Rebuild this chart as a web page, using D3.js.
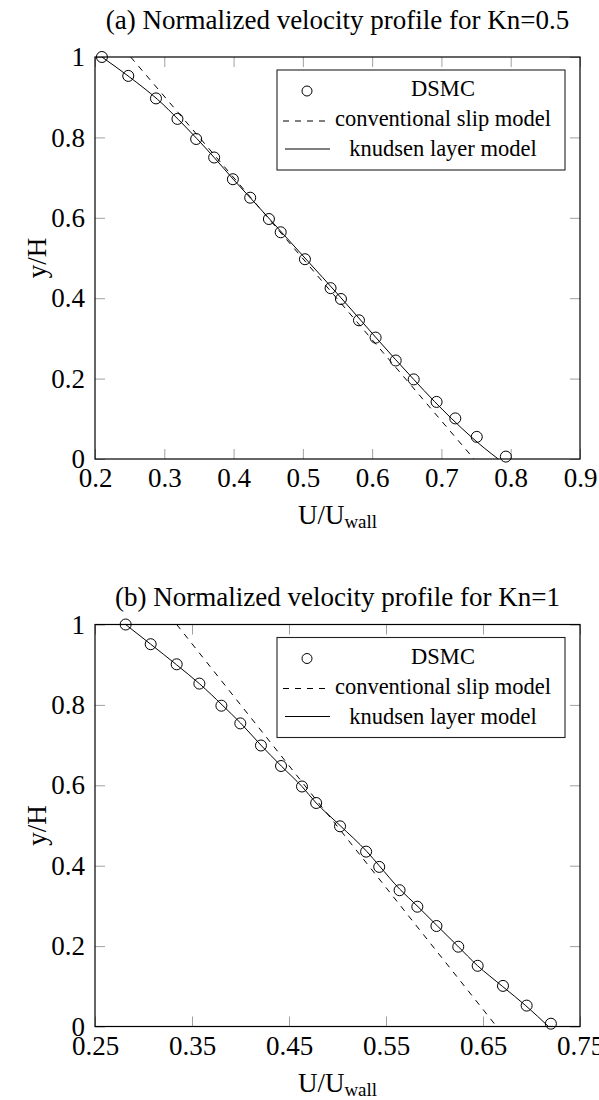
<!DOCTYPE html>
<html>
<head>
<meta charset="utf-8">
<script src="https://cdn.jsdelivr.net/npm/d3@7"></script>
<style>
  body { margin: 0; background: #fff; }
  svg text { font-family: "Liberation Serif", "Times New Roman", serif; fill: #000; }
</style>
</head>
<body>
<svg id="chart" width="599" height="1100" font-family="Liberation Serif, serif"></svg>
<script>
// Kn = 0.5
const dsmcU05 = [0.21, 0.248, 0.288, 0.319, 0.346, 0.372, 0.399, 0.424, 0.451, 0.468, 0.503,
                 0.540, 0.555, 0.581, 0.605, 0.634, 0.660, 0.693, 0.720, 0.751, 0.793];
const dsmcY05 = [1.0, 0.953, 0.897, 0.846, 0.796, 0.75, 0.696, 0.65, 0.597, 0.564, 0.497,
                 0.425, 0.398, 0.345, 0.302, 0.245, 0.198, 0.142, 0.101, 0.055, 0.006];
const slipU05 = [0.2515, 0.747];
const slipY05 = [1, 0];
const knU05 = [0.21, 0.25, 0.29, 0.32, 0.347, 0.372, 0.40, 0.425, 0.452, 0.503, 0.554,
               0.605, 0.634, 0.66, 0.69, 0.715, 0.743, 0.762, 0.782];
const knY05 = [1, 0.95, 0.895, 0.845, 0.797, 0.75, 0.695, 0.648, 0.597, 0.5, 0.403,
               0.303, 0.247, 0.198, 0.143, 0.1, 0.055, 0.027, 0];
const xTicks05 = [0.2, 0.3, 0.4, 0.5, 0.6, 0.7, 0.8, 0.9];

// Kn = 1
const dsmcU1 = [0.2816, 0.3074, 0.3342, 0.3576, 0.3803, 0.3998, 0.4211, 0.4418, 0.4634, 0.478, 0.5026,
                0.5295, 0.543, 0.564, 0.5823, 0.602, 0.6245, 0.6445, 0.6706, 0.695, 0.720];
const dsmcY1 = [1.0, 0.951, 0.901, 0.853, 0.798, 0.754, 0.699, 0.648, 0.597, 0.556, 0.498,
                0.435, 0.397, 0.339, 0.298, 0.25, 0.1985, 0.151, 0.101, 0.052, 0.007];
const slipU1 = [0.3342, 0.664];
const slipY1 = [1, 0];
const knU1 = [0.2816, 0.3074, 0.334, 0.358, 0.381, 0.4, 0.421, 0.442, 0.4634, 0.478, 0.5026,
              0.53, 0.543, 0.564, 0.583, 0.603, 0.624, 0.6445, 0.67, 0.694, 0.7175];
const knY1 = [1, 0.951, 0.9, 0.852, 0.8, 0.755, 0.7, 0.648, 0.597, 0.556, 0.5,
              0.436, 0.4, 0.342, 0.298, 0.25, 0.2, 0.151, 0.1, 0.052, 0];
const xTicks1 = [0.25, 0.35, 0.45, 0.55, 0.65, 0.75];

const yTicks = [0, 0.2, 0.4, 0.6, 0.8, 1];
const legendLabels = ['DSMC', 'conventional slip model', 'knudsen layer model'];

const svg = d3.select('#chart');
const serif = '"Liberation Serif", "Times New Roman", serif';

const zip = (us, ys) => us.map((u, i) => ({u: u, y: ys[i]}));

const render = cfg => {
    const left = 95, right = 580;
    const top = cfg.top, bottom = cfg.top + 402;
    const innerWidth = right - left;
    const innerHeight = bottom - top;

    const xScale = d3.scaleLinear().domain(cfg.xDomain).range([0, innerWidth]);
    const yScale = d3.scaleLinear().domain([0, 1]).range([innerHeight, 0]);

    const g = svg.append('g').attr('transform', `translate(${left}, ${top})`);

    // titolo
    g.append('text')
        .attr('x', innerWidth / 2)
        .attr('y', cfg.titleY)
        .attr('text-anchor', 'middle')
        .style('font-size', '27px')
        .style('font-family', serif)
        .text(cfg.title);

    // tick interni grigi, su tutti e quattro i lati
    const tickLen = 10;
    const grey = s => s.selectAll('line').attr('stroke', '#a0a0a0');
    g.append('g').attr('transform', `translate(0, ${innerHeight})`)
        .call(d3.axisBottom(xScale).tickValues(cfg.xTicks).tickSize(-tickLen).tickFormat(''))
        .call(s => s.select('.domain').remove()).call(grey);
    g.append('g')
        .call(d3.axisTop(xScale).tickValues(cfg.xTicks).tickSize(-tickLen).tickFormat(''))
        .call(s => s.select('.domain').remove()).call(grey);
    g.append('g')
        .call(d3.axisLeft(yScale).tickValues(yTicks).tickSize(-tickLen).tickFormat(''))
        .call(s => s.select('.domain').remove()).call(grey);
    g.append('g').attr('transform', `translate(${innerWidth}, 0)`)
        .call(d3.axisRight(yScale).tickValues(yTicks).tickSize(-tickLen).tickFormat(''))
        .call(s => s.select('.domain').remove()).call(grey);

    // etichette
    const xLab = g.append('g').attr('transform', `translate(0, ${innerHeight})`)
        .call(d3.axisBottom(xScale).tickValues(cfg.xTicks).tickSize(0).tickPadding(0)
            .tickFormat(d3.format('')));
    xLab.attr('font-family', null);
    xLab.select('.domain').remove();
    xLab.selectAll('text').attr('dy', null).attr('y', 28)
        .style('font-size', '27px').style('font-family', serif);

    const yLab = g.append('g')
        .call(d3.axisLeft(yScale).tickValues(yTicks).tickSize(0).tickPadding(10)
            .tickFormat(d3.format('')));
    yLab.attr('font-family', null);
    yLab.select('.domain').remove();
    yLab.selectAll('text').attr('dy', '0.32em')
        .style('font-size', '27px').style('font-family', serif);

    const xt = g.append('text')
        .attr('x', innerWidth / 2)
        .attr('y', innerHeight + 65)
        .attr('text-anchor', 'middle')
        .style('font-size', '27px')
        .style('font-family', serif);
    xt.append('tspan').text('U/U');
    xt.append('tspan').attr('dy', 4).style('font-size', '19px').text('wall');

    g.append('text')
        .attr('transform', `translate(${46 - left}, ${innerHeight / 2}) rotate(-90)`)
        .attr('text-anchor', 'middle')
        .style('font-size', '27px')
        .style('font-family', serif)
        .text('y/H');

    // linee
    const line = d3.line().x(d => xScale(d.u)).y(d => yScale(d.y));

    g.append('path')
        .attr('d', line(cfg.slip))
        .attr('fill', 'none').attr('stroke', '#000').attr('stroke-width', 1)
        .attr('stroke-dasharray', '6,6');
    g.append('path')
        .attr('d', line.curve(d3.curveMonotoneY)(cfg.kn))
        .attr('fill', 'none').attr('stroke', '#000').attr('stroke-width', 1);

    g.selectAll('circle.pt')
        .data(cfg.dsmc)
        .enter()
        .append('circle')
        .attr('class', 'pt')
        .attr('cx', d => xScale(d.u))
        .attr('cy', d => yScale(d.y))
        .attr('r', 5.5)
        .attr('fill', 'none').attr('stroke', '#000').attr('stroke-width', 1);

    // cornice
    g.append('rect')
        .attr('width', innerWidth).attr('height', innerHeight)
        .attr('fill', 'none').attr('stroke', '#000').attr('stroke-width', 1.2);

    // legenda
    const lg = g.append('g').attr('transform', `translate(${277 - left}, 13)`);
    lg.append('rect')
        .attr('width', 288).attr('height', 100)
        .attr('fill', '#fff').attr('stroke', '#222').attr('stroke-width', 1.1);
    lg.append('circle').attr('cx', 30).attr('cy', 21).attr('r', 5)
        .attr('fill', 'none').attr('stroke', '#000');
    lg.append('line').attr('x1', 6).attr('x2', 52).attr('y1', 51).attr('y2', 51)
        .attr('stroke', '#000').attr('stroke-dasharray', '6,6');
    lg.append('line').attr('x1', 8).attr('x2', 53).attr('y1', 79).attr('y2', 79)
        .attr('stroke', '#000');
    lg.selectAll('text.lab')
        .data(legendLabels)
        .enter()
        .append('text')
        .attr('class', 'lab')
        .attr('x', 166)
        .attr('y', (d, i) => [26, 56, 86][i])
        .attr('text-anchor', 'middle')
        .style('font-size', '22.5px')
        .style('font-family', serif)
        .text(d => d);
};

render({
    top: 57,
    titleY: -28,
    title: '(a) Normalized velocity profile for Kn=0.5',
    xDomain: [0.2, 0.9],
    xTicks: xTicks05,
    dsmc: zip(dsmcU05, dsmcY05),
    slip: zip(slipU05, slipY05),
    kn: zip(knU05, knY05)
});

render({
    top: 624.5,
    titleY: -19,
    title: '(b) Normalized velocity profile for Kn=1',
    xDomain: [0.25, 0.75],
    xTicks: xTicks1,
    dsmc: zip(dsmcU1, dsmcY1),
    slip: zip(slipU1, slipY1),
    kn: zip(knU1, knY1)
});
</script>
</body>
</html>
